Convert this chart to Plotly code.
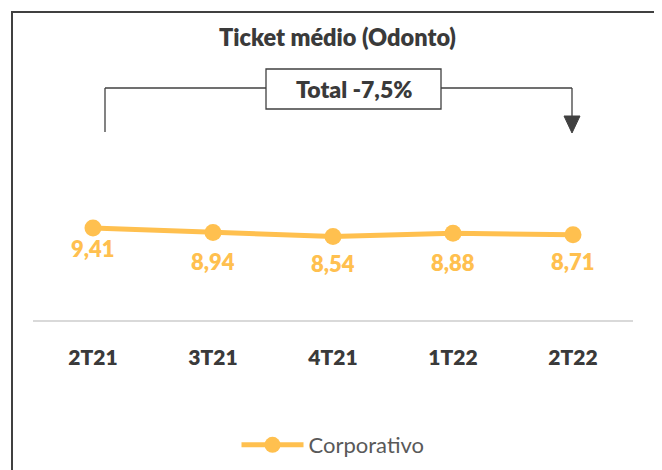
import plotly.graph_objects as go

categories = ["2T21", "3T21", "4T21", "1T22", "2T22"]
corporativo = [9.41, 8.94, 8.54, 8.88, 8.71]
value_labels = ["9,41", "8,94", "8,54", "8,88", "8,71"]
label_shift = [21, 29, 27, 29, 27]  # px below each point (style)
title_text = "Ticket médio (Odonto)"
total_text = "Total -7,5%"

W, H = 662, 470
OFF = 8  # page offset of the plot div
PLOT_X0, PLOT_X1 = 33, 633
AX_SCREEN = 320
L = PLOT_X0 - OFF
R = W - (PLOT_X1 - OFF)
T = 52
B = H - (AX_SCREEN - OFF)
PW = W - L - R
PH = H - T - B


def px(xs):
    return (xs - PLOT_X0) / (PLOT_X1 - PLOT_X0)


def py(ys):
    return (AX_SCREEN - ys) / PH


ORANGE = "#FFC04F"
DARK = "#3A3A3A"
FONT = "Lato"
BOLD = 800

fig = go.Figure()
fig.add_trace(go.Scatter(
    x=categories, y=corporativo, name="Corporativo",
    mode="lines+markers",
    line=dict(color=ORANGE, width=5),
    marker=dict(color=ORANGE, size=17),
    cliponaxis=False,
))

shapes = []
line_style = dict(color="#404040", width=1.3)
shapes.append(dict(type="line", xref="paper", yref="paper",
                   x0=px(105), x1=px(105), y0=py(132), y1=py(88), line=line_style))
shapes.append(dict(type="line", xref="paper", yref="paper",
                   x0=px(105), x1=px(266), y0=py(88), y1=py(88), line=line_style))
shapes.append(dict(type="line", xref="paper", yref="paper",
                   x0=px(441), x1=px(572), y0=py(88), y1=py(88), line=line_style))
shapes.append(dict(type="line", xref="paper", yref="paper",
                   x0=px(572), x1=px(572), y0=py(88), y1=py(118), line=line_style))
shapes.append(dict(type="path", xref="paper", yref="paper",
                   path=f"M {px(564)},{py(116)} L {px(580)},{py(116)} L {px(572)},{py(133)} Z",
                   fillcolor="#404040", line=dict(color="#404040", width=1)))
shapes.append(dict(type="rect", xref="paper", yref="paper",
                   x0=px(266), x1=px(441), y0=py(109), y1=py(69),
                   fillcolor="white", line=line_style))
shapes.append(dict(type="rect", xref="paper", yref="paper",
                   x0=px(12), x1=px(657), y0=py(485), y1=py(12),
                   line=dict(color="#404040", width=2)))

annotations = [
    dict(xref="paper", yref="paper", x=px(353.5), y=py(89), text=total_text,
         showarrow=False, font=dict(size=23, color=DARK, family=FONT, weight=BOLD),
         xanchor="center", yanchor="middle"),
    dict(xref="paper", yref="paper", x=px(337), y=py(37), text=title_text,
         showarrow=False, font=dict(size=23.5, color=DARK, family=FONT, weight=BOLD),
         xanchor="center", yanchor="middle"),
]
for c, v, t, s in zip(categories, corporativo, value_labels, label_shift):
    annotations.append(dict(x=c, y=v, xref="x", yref="y", text=t, showarrow=False,
                            yshift=-s, xanchor="center", yanchor="middle",
                            font=dict(size=22, color=ORANGE, family=FONT, weight=BOLD)))

fig.update_layout(
    width=W, height=H,
    margin=dict(l=L, r=R, t=T, b=B, autoexpand=False),
    paper_bgcolor="white", plot_bgcolor="white",
    shapes=shapes, annotations=annotations,
    showlegend=True,
    legend=dict(orientation="h", x=0.5, xanchor="center", y=py(445), yanchor="middle",
                itemwidth=62,
                font=dict(size=22, color="#595959", family=FONT), bgcolor="rgba(0,0,0,0)"),
    xaxis=dict(showline=True, linecolor="#D9D9D9", linewidth=2, showgrid=False,
               zeroline=False, ticks="outside", ticklen=18, tickcolor="rgba(0,0,0,0)",
               tickfont=dict(size=21, color=DARK, family=FONT, weight=BOLD),
               range=[-0.5, 4.5], fixedrange=True),
    yaxis=dict(visible=False, range=[0, PH / 9.78], showgrid=False, zeroline=False),
)

fig.write_html("out.html")
